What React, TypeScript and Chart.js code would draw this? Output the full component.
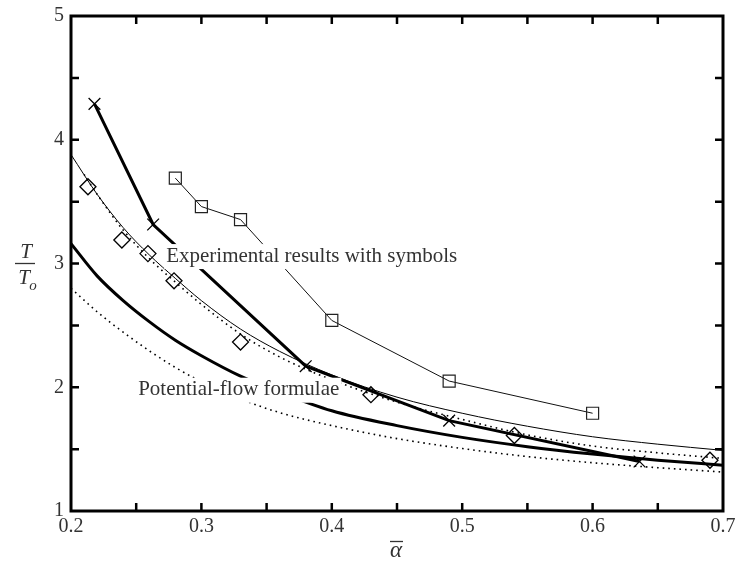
import React, { useEffect, useRef } from 'react';
import { Chart, registerables } from 'chart.js';

Chart.register(...registerables);

// ---- axis ----
const X_MIN = 0.2;
const X_MAX = 0.7;
const Y_MIN = 1;
const Y_MAX = 5;
const xTickLabels = ['0.2', '0.3', '0.4', '0.5', '0.6', '0.7'];
const yTickLabels = ['1', '2', '3', '4', '5'];

// ---- experimental results (symbols) ----
const squareX = [0.28, 0.30, 0.33, 0.40, 0.49, 0.60];
const squareY = [3.69, 3.46, 3.355, 2.54, 2.05, 1.79];

const crossX = [0.218, 0.263, 0.38, 0.49, 0.636];
const crossY = [4.29, 3.315, 2.17, 1.73, 1.40];

const diamondX = [0.213, 0.239, 0.259, 0.279, 0.33, 0.43, 0.54, 0.69];
const diamondY = [3.62, 3.19, 3.08, 2.86, 2.365, 1.94, 1.61, 1.41];

// ---- potential-flow formulae (curves) ----
const curveX = [0.20, 0.22, 0.24, 0.26, 0.28, 0.30, 0.33, 0.36, 0.40, 0.45, 0.50, 0.55, 0.60, 0.65, 0.70];
const thinUpperY = [3.88, 3.56, 3.29, 3.07, 2.88, 2.70, 2.47, 2.29, 2.10, 1.92, 1.79, 1.685, 1.60, 1.54, 1.49];
const thickLowerY = [3.16, 2.90, 2.70, 2.53, 2.38, 2.255, 2.09, 1.96, 1.81, 1.69, 1.595, 1.52, 1.46, 1.41, 1.37];
const dottedLowerY = [2.80, 2.61, 2.445, 2.295, 2.16, 2.045, 1.905, 1.795, 1.69, 1.585, 1.505, 1.44, 1.39, 1.35, 1.315];

const dottedUpperX = [0.21, 0.22, 0.24, 0.26, 0.28, 0.30, 0.33, 0.36, 0.40, 0.45, 0.50, 0.55, 0.60, 0.65, 0.70];
const dottedUpperY = [3.72, 3.56, 3.27, 3.04, 2.85, 2.67, 2.43, 2.245, 2.06, 1.88, 1.74, 1.615, 1.525, 1.47, 1.425];

// ---- annotations ----
const annotTexts = ['Experimental results with symbols', 'Potential-flow formulae'];
const annotX = [0.273, 0.2515];
const annotY = [3.06, 1.98];

const SERIF = '"Liberation Serif", "Times New Roman", serif';
const TEXT_COLOR = '#333';

const pts = (xs: number[], ys: number[]) => xs.map((x, i) => ({ x, y: ys[i] }));

const isMultiple = (v: number, step: number) => Math.abs(v / step - Math.round(v / step)) < 1e-6;

const annotationPlugin = {
  id: 'annotBoxes',
  afterDatasetsDraw(chart: any) {
    const { ctx, scales } = chart;
    ctx.save();
    ctx.font = `21px ${SERIF}`;
    ctx.textBaseline = 'middle';
    ctx.textAlign = 'left';
    annotTexts.forEach((t, i) => {
      const px = scales.x.getPixelForValue(annotX[i]);
      const py = scales.y.getPixelForValue(annotY[i]);
      const w = ctx.measureText(t).width;
      ctx.fillStyle = '#fff';
      ctx.fillRect(px - 2, py - 12, w + 4, 25);
      ctx.fillStyle = TEXT_COLOR;
      ctx.fillText(t, px, py);
    });
    ctx.restore();
  },
};

const framePlugin = {
  id: 'frameTicks',
  afterDraw(chart: any) {
    const { ctx, chartArea, scales } = chart;
    const { left, right, top, bottom } = chartArea;
    ctx.save();
    ctx.strokeStyle = '#000';
    // inward ticks
    ctx.lineWidth = 2.5;
    const tl = 8;
    ctx.beginPath();
    scales.x.ticks.forEach((t: any) => {
      const px = scales.x.getPixelForValue(t.value);
      if (t.value <= X_MIN + 1e-9 || t.value >= X_MAX - 1e-9) return;
      ctx.moveTo(px, bottom);
      ctx.lineTo(px, bottom - tl);
      ctx.moveTo(px, top);
      ctx.lineTo(px, top + tl);
    });
    scales.y.ticks.forEach((t: any) => {
      const py = scales.y.getPixelForValue(t.value);
      if (t.value <= Y_MIN + 1e-9 || t.value >= Y_MAX - 1e-9) return;
      ctx.moveTo(left, py);
      ctx.lineTo(left + tl, py);
      ctx.moveTo(right, py);
      ctx.lineTo(right - tl, py);
    });
    ctx.stroke();
    // frame
    ctx.lineWidth = 3;
    ctx.strokeRect(left, top, right - left, bottom - top);

    // y-axis title: T / T_o
    const cy = (top + bottom) / 2;
    const cx = left - 46;
    ctx.fillStyle = TEXT_COLOR;
    ctx.strokeStyle = TEXT_COLOR;
    ctx.font = `italic 21px ${SERIF}`;
    ctx.textAlign = 'center';
    ctx.textBaseline = 'alphabetic';
    ctx.fillText('T', cx + 1, cy - 6);
    ctx.lineWidth = 1.3;
    ctx.beginPath();
    ctx.moveTo(cx - 10, cy);
    ctx.lineTo(cx + 10, cy);
    ctx.stroke();
    ctx.fillText('T', cx - 1, cy + 20);
    ctx.font = `italic 15px ${SERIF}`;
    ctx.fillText('o', cx + 8, cy + 26);

    // x-axis title: alpha with overbar
    const mx = (left + right) / 2;
    ctx.font = `italic 23px ${SERIF}`;
    ctx.fillText('\u03b1', mx - 1, 557);
    ctx.lineWidth = 1.3;
    ctx.beginPath();
    ctx.moveTo(mx - 7, 541.5);
    ctx.lineTo(mx + 6, 541.5);
    ctx.stroke();
    ctx.restore();
  },
};

export default function App() {
  const ref = useRef<HTMLCanvasElement>(null);
  useEffect(() => {
    document.body.style.margin = '0';
    const canvas = ref.current!;
    const curveBase = {
      pointRadius: 0,
      borderColor: '#000',
      cubicInterpolationMode: 'monotone' as const,
      fill: false,
    };
    const chart = new Chart(canvas, {
      type: 'line',
      data: {
        datasets: [
          {
            label: 'squares',
            data: pts(squareX, squareY),
            borderColor: '#111',
            borderWidth: 1,
            tension: 0,
            pointStyle: 'rect',
            pointRadius: 8.5,
            pointBorderWidth: 1.2,
            pointBorderColor: '#222',
            pointBackgroundColor: 'rgba(0,0,0,0)',
          },
          {
            label: 'crosses',
            data: pts(crossX, crossY),
            borderColor: '#000',
            borderWidth: 3,
            tension: 0,
            pointStyle: 'crossRot',
            pointRadius: 8.3,
            pointBorderWidth: 1.3,
            pointBorderColor: '#000',
          },
          {
            label: 'diamonds',
            data: pts(diamondX, diamondY),
            showLine: false,
            pointStyle: 'rectRot',
            pointRadius: 8,
            pointBorderWidth: 1.3,
            pointBorderColor: '#000',
            pointBackgroundColor: 'rgba(0,0,0,0)',
          },
          { ...curveBase, label: 'thin upper', data: pts(curveX, thinUpperY), borderWidth: 1 },
          { ...curveBase, label: 'dotted upper', data: pts(dottedUpperX, dottedUpperY), borderWidth: 1.6, borderDash: [1.6, 4] },
          { ...curveBase, label: 'thick lower', data: pts(curveX, thickLowerY), borderWidth: 3 },
          { ...curveBase, label: 'dotted lower', data: pts(curveX, dottedLowerY), borderWidth: 1.6, borderDash: [1.6, 4] },
        ],
      },
      options: {
        responsive: false,
        animation: false,
        events: [],
        layout: { padding: { left: 0, top: 16, right: 14, bottom: 0 } },
        plugins: { legend: { display: false }, tooltip: { enabled: false } },
        scales: {
          x: {
            type: 'linear',
            min: X_MIN,
            max: X_MAX,
            grid: { display: false, drawTicks: false },
            border: { display: false },
            ticks: {
              stepSize: 0.05,
              autoSkip: false,
              maxRotation: 0,
              padding: 4,
              color: TEXT_COLOR,
              font: { family: SERIF, size: 20 },
              callback: (v: any) => {
                const n = Number(v);
                if (!isMultiple(n, 0.1)) return '';
                const idx = Math.round((n - X_MIN) * 10);
                return xTickLabels[idx] ?? '';
              },
            },
            afterFit: (s: any) => {
              s.height = 51;
              s.paddingLeft = 0;
              s.paddingRight = 0;
            },
          },
          y: {
            type: 'linear',
            min: Y_MIN,
            max: Y_MAX,
            grid: { display: false, drawTicks: false },
            border: { display: false },
            ticks: {
              stepSize: 0.5,
              autoSkip: false,
              padding: 7,
              color: TEXT_COLOR,
              font: { family: SERIF, size: 20 },
              callback: (v: any) => {
                const n = Number(v);
                if (!isMultiple(n, 1)) return '';
                return yTickLabels[Math.round(n - Y_MIN)] ?? '';
              },
            },
            afterFit: (s: any) => {
              s.width = 71;
              s.paddingTop = 0;
              s.paddingBottom = 0;
            },
          },
        },
      },
      plugins: [annotationPlugin, framePlugin],
    });
    return () => chart.destroy();
  }, []);
  return <canvas ref={ref} width={737} height={562} style={{ display: 'block' }} />;
}
